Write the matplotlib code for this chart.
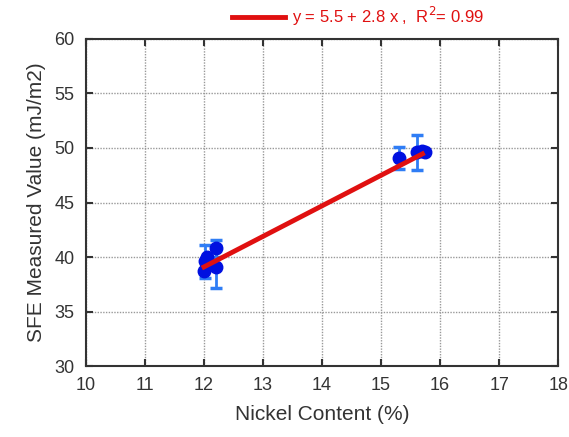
import numpy as np
import matplotlib.pyplot as plt

plt.rcParams['font.family'] = ['Liberation Sans Narrow', 'Liberation Sans', 'DejaVu Sans']

nickel = [12.0, 12.02, 12.05, 12.2, 12.2, 15.3, 15.6, 15.7, 15.75]
sfe = [38.7, 39.6, 40.0, 40.8, 39.1, 49.1, 49.6, 49.7, 49.6]
sfe_err = [0.0, 1.5, 0.0, 0.8, 1.9, 1.0, 1.6, 0.0, 0.0]

intercept = 5.5
slope = 2.8
r2 = 0.99
fit_x = [12.0, 15.7]

fig = plt.figure(figsize=(5.69, 4.37), dpi=100)
ax = fig.add_axes([0.151, 0.162, 0.830, 0.749])

ax.errorbar(nickel, sfe, yerr=sfe_err, fmt='none', ecolor='#2f7df5',
            elinewidth=2, capsize=4, capthick=2.5, zorder=3)
ax.plot(nickel, sfe, 'o', color='#0010e0', markersize=9, zorder=4)

fx = np.array(fit_x)
line, = ax.plot(fx, intercept + slope * fx, color='#e01010', linewidth=3.5, zorder=5)

ax.set_xlim(10, 18)
ax.set_ylim(30, 60)
ax.set_xticks(range(10, 19))
ax.set_yticks(range(30, 61, 5))
ax.grid(True, color='#999999', linestyle=(0, (1, 1)), linewidth=1)
ax.tick_params(direction='in', top=True, right=True, length=5, width=1.5,
               labelsize=13, colors='#333333', pad=8)
for s in ax.spines.values():
    s.set_linewidth(1.5)
    s.set_color('#333333')

ax.set_xlabel('Nickel Content (%)', fontsize=15, color='#333333', labelpad=8)
ax.set_ylabel('SFE Measured Value (mJ/m2)', fontsize=15, color='#333333', labelpad=6)

leg = ax.legend([line], ['y = 5.5 + 2.8 x ,  R$^2$= 0.99'], loc='lower center',
                bbox_to_anchor=(0.575, 1.0), frameon=False, fontsize=12,
                handlelength=3.2, handletextpad=0.4, borderaxespad=0.25)
for t in leg.get_texts():
    t.set_color('#e01010')

fig.savefig('out.png', dpi=100)
